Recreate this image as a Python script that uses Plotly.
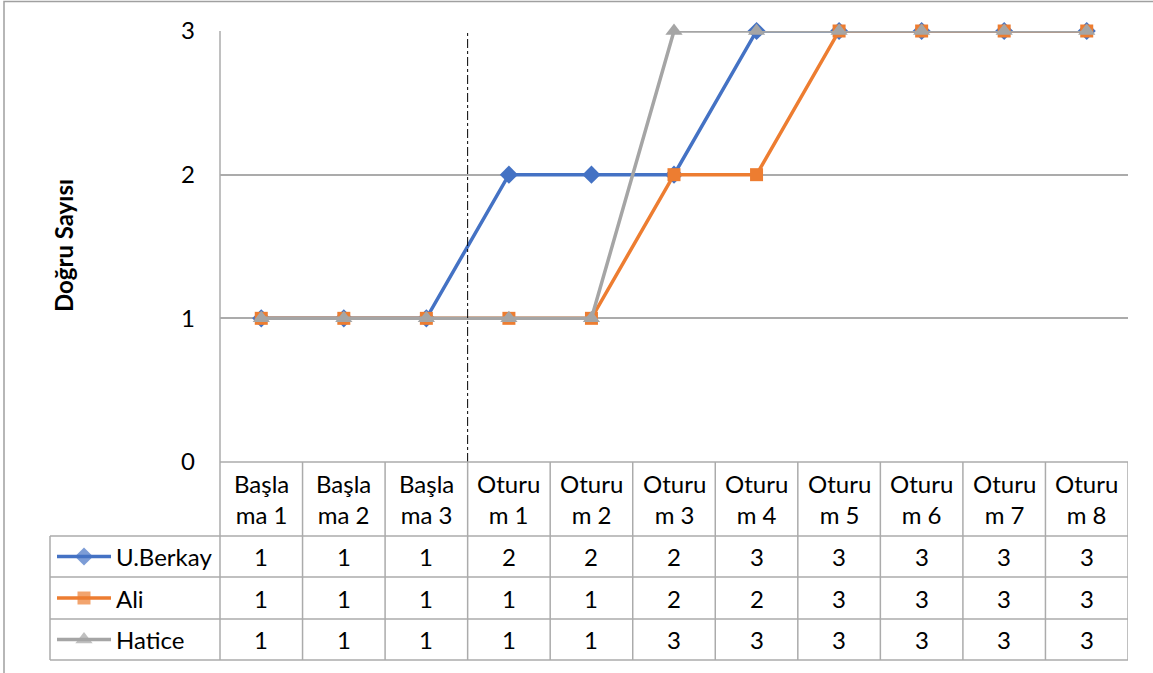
import plotly.graph_objects as go

categories = ["Başlama 1", "Başlama 2", "Başlama 3", "Oturum 1", "Oturum 2", "Oturum 3",
              "Oturum 4", "Oturum 5", "Oturum 6", "Oturum 7", "Oturum 8"]
series_names = ["U.Berkay", "Ali", "Hatice"]
ub_values = [1, 1, 1, 2, 2, 2, 3, 3, 3, 3, 3]
ali_values = [1, 1, 1, 1, 1, 2, 2, 3, 3, 3, 3]
hatice_values = [1, 1, 1, 1, 1, 3, 3, 3, 3, 3, 3]
y_ticks = [0, 1, 2, 3]
y_title = "Doğru Sayısı"
phase_split = 2.5  # between Başlama 3 and Oturum 1

W, H = 1153, 673
FONT = "Lato"
FS = 24
GRID = "#ababab"

colors = ["#4472C4", "#ED7D31", "#A5A5A5"]
symbols = ["diamond", "square", "triangle-up"]
msizes = [14, 13, 15]
all_values = [ub_values, ali_values, hatice_values]

# pixel layout
PL, PR, PT, PB = 220, 1128, 31, 462
HDR_B = 536
ROW_B = [577, 619, 660]
TBL_L = 50


def px(x):
    return x / W


def py(y):
    return 1 - y / H


xs = list(range(len(categories)))
fig = go.Figure()

for name, vals, c, s, ms in zip(series_names, all_values, colors, symbols, msizes):
    fig.add_trace(go.Scatter(
        x=xs, y=vals, mode="lines+markers", name=name,
        line=dict(color=c, width=3.5),
        marker=dict(symbol=s, size=ms, color=c, line=dict(width=0)),
        showlegend=False, cliponaxis=False))

shapes = []
# outer border
shapes.append(dict(type="rect", xref="paper", yref="paper", x0=px(4), x1=px(W + 5),
                   y0=py(H + 5), y1=py(1.5), line=dict(color="#a0a0a0", width=1.5)))
# dash-dot separator
shapes.append(dict(type="line", xref="x", yref="y", x0=phase_split, x1=phase_split,
                   y0=0, y1=3, line=dict(color="black", width=1, dash="dashdot")))
# left axis line through table
shapes.append(dict(type="line", xref="paper", yref="paper", x0=px(PL), x1=px(PL),
                   y0=py(PT), y1=py(ROW_B[-1]), line=dict(color=GRID, width=1.5)))
# table horizontal lines
shapes.append(dict(type="line", xref="paper", yref="paper", x0=px(PL), x1=px(PR),
                   y0=py(PB), y1=py(PB), line=dict(color=GRID, width=1.5)))
for yy in [HDR_B] + ROW_B:
    shapes.append(dict(type="line", xref="paper", yref="paper", x0=px(TBL_L), x1=px(PR),
                       y0=py(yy), y1=py(yy), line=dict(color=GRID, width=1.5)))
# left border of label column
shapes.append(dict(type="line", xref="paper", yref="paper", x0=px(TBL_L), x1=px(TBL_L),
                   y0=py(HDR_B), y1=py(ROW_B[-1]), line=dict(color=GRID, width=1.5)))
# vertical category boundaries
for i in range(len(categories)):
    xb = i + 0.5
    shapes.append(dict(type="line", xref="x", yref="paper", x0=xb, x1=xb,
                       y0=py(PB), y1=py(ROW_B[-1]), line=dict(color=GRID, width=1.5)))
# legend key lines
row_tops = [HDR_B] + ROW_B[:-1]
row_centers = [(a + b) / 2 for a, b in zip(row_tops, ROW_B)]
for c, yc in zip(colors, row_centers):
    shapes.append(dict(type="line", xref="paper", yref="paper", x0=px(57), x1=px(111),
                       y0=py(yc), y1=py(yc), line=dict(color=c, width=3.5)))

annotations = []
# header labels
for i, cat in enumerate(categories):
    label = cat[:5] + "<br>" + cat[5:]
    annotations.append(dict(xref="x", yref="paper", x=i, y=py((PB + HDR_B) / 2),
                            text=label, showarrow=False, xanchor="center", yanchor="middle",
                            font=dict(family=FONT, size=FS, color="black")))
# values
for vals, yc in zip(all_values, row_centers):
    for i, v in enumerate(vals):
        annotations.append(dict(xref="x", yref="paper", x=i, y=py(yc), text=str(v),
                                showarrow=False, xanchor="center", yanchor="middle",
                                font=dict(family=FONT, size=FS, color="black")))
# series names
for name, yc in zip(series_names, row_centers):
    annotations.append(dict(xref="paper", yref="paper", x=px(114), y=py(yc), text=name,
                            showarrow=False, xanchor="left", yanchor="middle",
                            font=dict(family=FONT, size=FS, color="black")))
# y title
annotations.append(dict(xref="paper", yref="paper", x=px(63), y=py(246), text="<b>" + y_title + "</b>",
                        textangle=-90, showarrow=False, xanchor="center", yanchor="middle",
                        font=dict(family=FONT, size=FS, color="black")))

# legend key markers on a separate axis spanning the whole figure
fig.add_trace(go.Scatter(
    x=[84, 84, 84], y=row_centers, mode="markers", xaxis="x2", yaxis="y2",
    marker=dict(symbol=symbols, size=msizes, color=colors, line=dict(width=0)),
    showlegend=False, hoverinfo="skip"))

fig.update_layout(
    width=W, height=H, margin=dict(l=0, r=0, t=0, b=0, pad=0, autoexpand=False),
    paper_bgcolor="white", plot_bgcolor="rgba(0,0,0,0)", showlegend=False,
    xaxis=dict(domain=[px(PL), px(PR)], range=[-0.5, len(categories) - 0.5], automargin=False,
               showticklabels=False, showgrid=False, zeroline=False, showline=False, ticks=""),
    yaxis=dict(domain=[py(PB), py(PT)], range=[0, 3], tickvals=y_ticks, automargin=False,
               showgrid=True, gridcolor=GRID, gridwidth=1.5, zeroline=False, showline=False,
               ticks="", ticklabelstandoff=24,
               tickfont=dict(family=FONT, size=FS, color="black")),
    xaxis2=dict(domain=[0, 1], range=[0, W], visible=False, anchor="y2", automargin=False),
    yaxis2=dict(domain=[0, 1], range=[H, 0], visible=False, anchor="x2", automargin=False),
    shapes=shapes, annotations=annotations,
    font=dict(family=FONT),
)

fig.write_html("out.html", config={"displayModeBar": False},
               post_script="document.body.style.margin='0';document.body.style.overflow='hidden';")
